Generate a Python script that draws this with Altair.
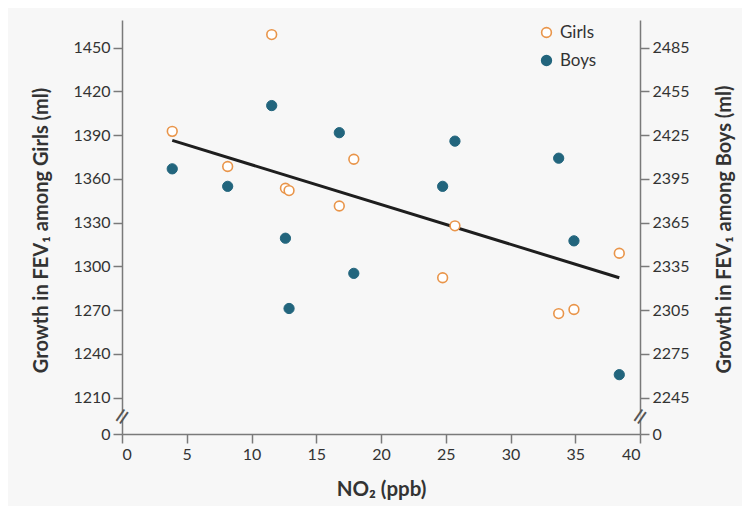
import altair as alt
import pandas as pd

# ---- data ----
no2 = [3.88, 8.16, 11.56, 12.62, 12.9, 16.78, 17.9, 24.76, 25.71, 33.72, 34.9, 38.4]
girls_fev = [1392.6, 1368.5, 1459.0, 1353.6, 1352.0, 1341.4, 1373.5, 1292.2, 1327.8, 1267.6, 1270.4, 1309.0]
boys_fev = [2401.9, 2389.9, 2445.3, 2354.3, 2306.1, 2426.7, 2330.2, 2389.9, 2420.9, 2409.2, 2352.5, 2260.7]
fit_x = [3.88, 38.4]
fit_y = [1386.4, 1292.2]

girls_ticks = [1185, 1210, 1240, 1270, 1300, 1330, 1360, 1390, 1420, 1450]
boys_ticks = [2220, 2245, 2275, 2305, 2335, 2365, 2395, 2425, 2455, 2485]
x_ticks = [0, 5, 10, 15, 20, 25, 30, 35, 40]
girls_domain = [1185, 1469]
boys_domain = [2220, 2504]
break_girls = [1197]
break_boys = [2232]

ORANGE = "#e9954a"
TEAL = "#22657d"
BG = "#f7f7f7"
AXIS = "#7a7a7a"
TXT = "#333333"
FONT = "Lato"

girls = pd.DataFrame({"no2": no2, "fev": girls_fev, "sex": ["Girls"] * len(no2)})
boys = pd.DataFrame({"no2": no2, "fev": boys_fev, "sex": ["Boys"] * len(no2)})
fit = pd.DataFrame({"no2": fit_x, "fev": fit_y})
brk_l = pd.DataFrame({"no2": [0], "fev": break_girls})
brk_r = pd.DataFrame({"no2": [40], "fev": break_boys})

axis_style = dict(
    domainColor=AXIS, domainWidth=1.5, tickColor=AXIS, tickWidth=1.5, tickSize=9,
    labelFont=FONT, labelFontSize=16, labelColor=TXT, labelPadding=3,
    titleFont=FONT, titleFontWeight="bold", titleColor=TXT,
    grid=False,
)

x_enc = alt.X("no2:Q", scale=alt.Scale(domain=[0, 40], nice=False, zero=False),
              axis=alt.Axis(values=x_ticks, title="NO₂ (ppb)", titlePadding=17,
                            titleFontSize=20.5, **axis_style))

y_girls = alt.Y("fev:Q", scale=alt.Scale(domain=girls_domain, nice=False, zero=False),
                axis=alt.Axis(orient="left", values=girls_ticks,
                              labelExpr="datum.value == 1185 ? '0' : datum.label",
                              format="d", titleFontSize=20, titleY=210,
                              title="Growth in FEV₁ among Girls (ml)", titlePadding=21, **axis_style))
y_boys = alt.Y("fev:Q", scale=alt.Scale(domain=boys_domain, nice=False, zero=False),
               axis=alt.Axis(orient="right", values=boys_ticks,
                             labelExpr="datum.value == 2220 ? '0' : datum.label",
                             format="d", titleAngle=270, titleBaseline="top",
                             titleFontSize=20, titleY=209,
                             title="Growth in FEV₁ among Boys (ml)", titlePadding=25, **axis_style))

leg = alt.Legend(orient="none", legendX=416, legendY=4, title=None, labelFont=FONT,
                 labelFontSize=17, labelColor=TXT, symbolSize=95, symbolStrokeWidth=1.6,
                 rowPadding=10, padding=0, labelOffset=5)
stroke_enc = alt.Stroke("sex:N", scale=alt.Scale(domain=["Girls", "Boys"], range=[ORANGE, TEAL]), legend=leg)
fill_enc = alt.Fill("sex:N", scale=alt.Scale(domain=["Girls", "Boys"], range=["#ffffff", TEAL]), legend=leg)

girls_pts = alt.Chart(girls).mark_circle(size=95, strokeWidth=1.6, opacity=1).encode(
    x=x_enc, y=y_girls, stroke=stroke_enc, fill=fill_enc)
fit_line = alt.Chart(fit).mark_line(color="#1e1e1e", strokeWidth=3).encode(x="no2:Q", y="fev:Q")
gap_l = alt.Chart(brk_l).mark_tick(color=BG, thickness=7, size=6, orient="horizontal").encode(x="no2:Q", y="fev:Q")
mark_l = alt.Chart(brk_l).mark_text(text="=", fontSize=22, angle=305, color="#555555", font="DejaVu Sans").encode(x="no2:Q", y="fev:Q")

left = alt.layer(gap_l, mark_l, fit_line, girls_pts)

boys_pts = alt.Chart(boys).mark_circle(size=105, strokeWidth=1.0, opacity=1).encode(
    x=x_enc, y=y_boys, stroke=stroke_enc, fill=fill_enc)
gap_r = alt.Chart(brk_r).mark_tick(color=BG, thickness=7, size=6, orient="horizontal").encode(x="no2:Q", y="fev:Q")
mark_r = alt.Chart(brk_r).mark_text(text="=", fontSize=22, angle=305, color="#555555", font="DejaVu Sans").encode(x="no2:Q", y="fev:Q")
right = alt.layer(gap_r, mark_r, boys_pts)

chart = alt.layer(left, right).resolve_scale(y="independent").properties(
    width=518, height=414,
    autosize=alt.AutoSizeParams(type="none"),
    padding={"left": 114, "top": 12, "right": 102, "bottom": 72},
    background=BG,
).configure_view(stroke=None)

chart.save("out.html", embed_options={"renderer": "svg", "actions": False})
